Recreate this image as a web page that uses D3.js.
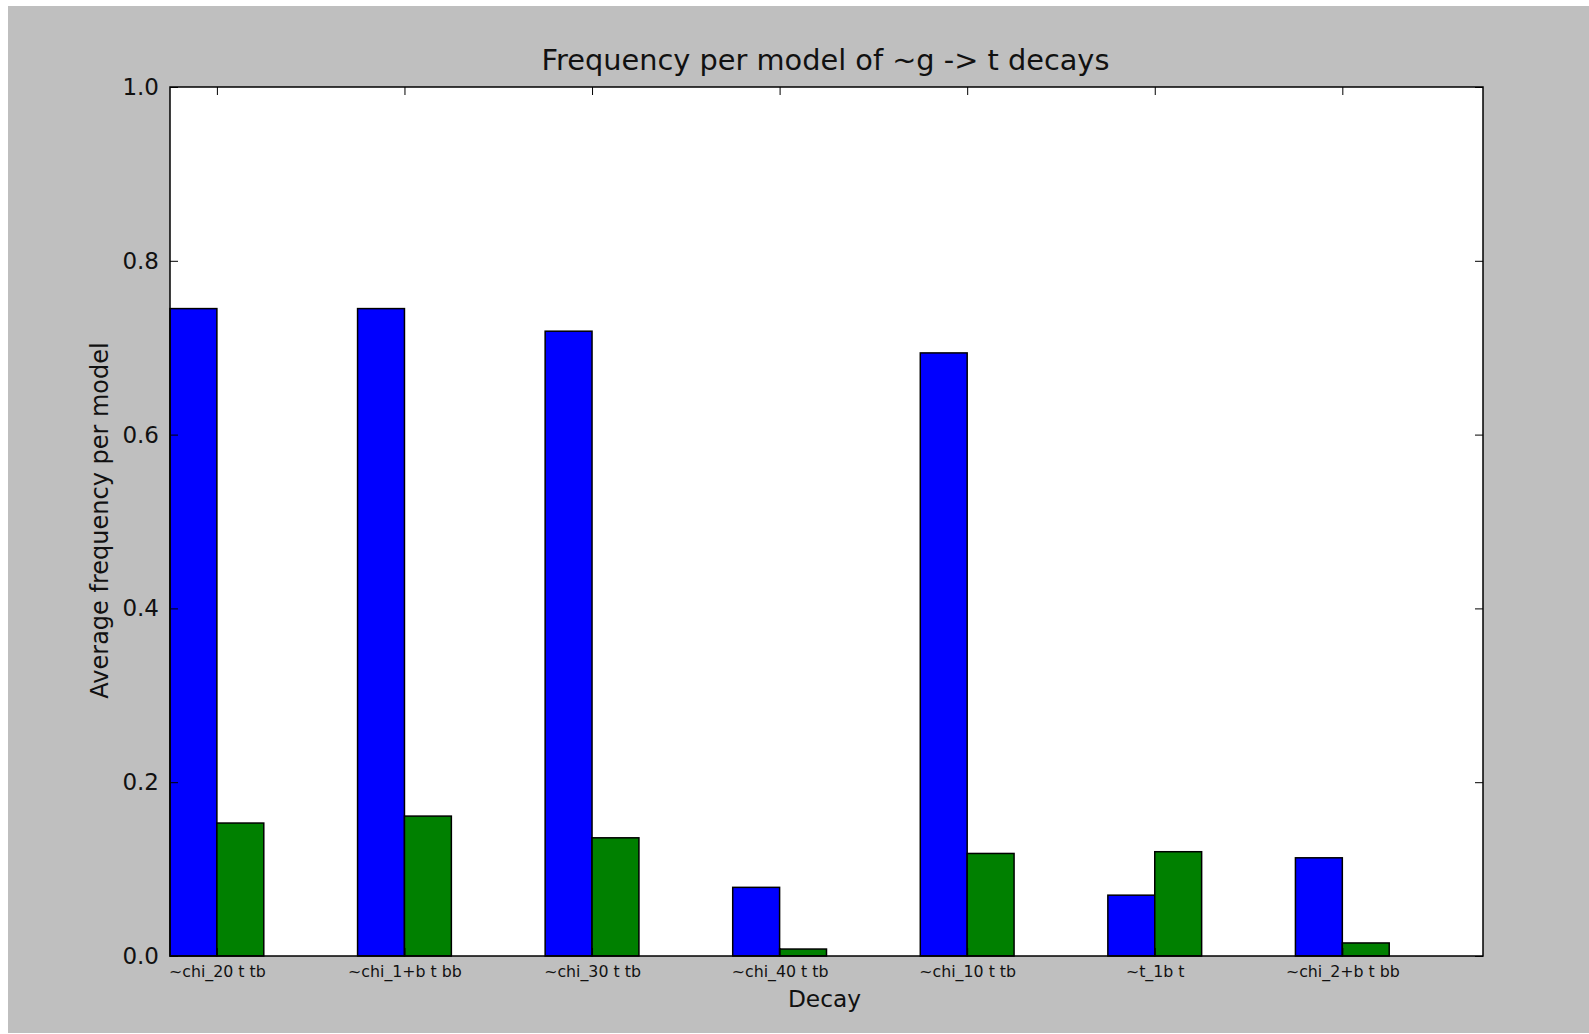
<!DOCTYPE html>
<html>
<head>
<meta charset="utf-8">
<script src="https://cdn.jsdelivr.net/npm/d3@7"></script>
<style>
  html, body { margin: 0; padding: 0; background: #ffffff; }
  svg { display: block; font-family: "DejaVu Sans", sans-serif; }
</style>
</head>
<body>
<svg id="chart" width="1589" height="1034"></svg>
<script>
// Decay channels and the average frequency per model for the two series
const categories = ["~chi_20 t tb", "~chi_1+b t bb", "~chi_30 t tb", "~chi_40 t tb", "~chi_10 t tb", "~t_1b t", "~chi_2+b t bb"];
const blueValues = [0.745, 0.745, 0.719, 0.079, 0.694, 0.070, 0.113];
const greenValues = [0.153, 0.161, 0.136, 0.008, 0.118, 0.120, 0.015];
const yTickValues = [0.0, 0.2, 0.4, 0.6, 0.8, 1.0];
const barWidth = 0.25;

const svg = d3.select("#chart");
const W = 1589, H = 1034;
const plot = { left: 170, right: 1483, top: 87, bottom: 956 };

// figure background
svg.append("rect").attr("x", 8).attr("y", 6).attr("width", W - 8).attr("height", H - 7)
  .attr("fill", "#bfbfbf");

const x = d3.scaleLinear().domain([0, categories.length]).range([plot.left, plot.right]);
const y = d3.scaleLinear().domain([0, 1]).range([plot.bottom, plot.top]);

// axes area
svg.append("rect").attr("x", plot.left).attr("y", plot.top)
  .attr("width", plot.right - plot.left).attr("height", plot.bottom - plot.top)
  .attr("fill", "#ffffff");

const bw = x(barWidth) - x(0);
const bars = svg.append("g");
const series = [
  { values: blueValues, offset: 0, color: "#0000ff" },
  { values: greenValues, offset: barWidth, color: "#008000" }
];
series.forEach(s => {
  bars.selectAll(null).data(s.values).enter().append("rect")
    .attr("x", (d, i) => x(i + s.offset))
    .attr("y", d => y(d))
    .attr("width", bw)
    .attr("height", d => y(0) - y(d))
    .attr("fill", s.color)
    .attr("stroke", "#000")
    .attr("stroke-width", 1.5);
});

const tickPos = categories.map((c, i) => i + barWidth);

// bottom axis with category labels
const xAxisBottom = d3.axisBottom(x).tickValues(tickPos)
  .tickFormat((d, i) => categories[i]).tickSizeInner(-8).tickSizeOuter(0).tickPadding(10);
const gxb = svg.append("g").attr("transform", `translate(0,${plot.bottom})`).call(xAxisBottom);
gxb.select(".domain").remove();
gxb.selectAll("text").attr("font-size", "15.8px").attr("fill", "#111").attr("font-family", "DejaVu Sans");

// top axis ticks
const xAxisTop = d3.axisTop(x).tickValues(tickPos).tickFormat("").tickSizeInner(-8).tickSizeOuter(0);
const gxt = svg.append("g").attr("transform", `translate(0,${plot.top})`).call(xAxisTop);
gxt.select(".domain").remove();

// left axis
const yAxisLeft = d3.axisLeft(y).tickValues(yTickValues).tickFormat(d3.format(".1f"))
  .tickSizeInner(-8).tickSizeOuter(0).tickPadding(11);
const gyl = svg.append("g").attr("transform", `translate(${plot.left},0)`).call(yAxisLeft);
gyl.select(".domain").remove();
gyl.selectAll("text").attr("font-size", "23px").attr("fill", "#111")
  .attr("font-family", "DejaVu Sans").attr("dy", "0.33em");

// right axis ticks
const yAxisRight = d3.axisRight(y).tickValues(yTickValues).tickFormat("").tickSizeInner(-8).tickSizeOuter(0);
const gyr = svg.append("g").attr("transform", `translate(${plot.right},0)`).call(yAxisRight);
gyr.select(".domain").remove();

svg.selectAll(".tick line").attr("stroke", "#000").attr("stroke-width", 1);

// frame
svg.append("rect").attr("x", plot.left).attr("y", plot.top)
  .attr("width", plot.right - plot.left).attr("height", plot.bottom - plot.top)
  .attr("fill", "none").attr("stroke", "#000").attr("stroke-width", 1.5);

// title and axis labels
const cx = (plot.left + plot.right) / 2;
svg.append("text").attr("x", cx - 1).attr("y", 70).attr("text-anchor", "middle")
  .attr("font-size", "28.8px").attr("fill", "#111").text("Frequency per model of ~g -> t decays");
svg.append("text").attr("x", cx - 2).attr("y", 1007).attr("text-anchor", "middle")
  .attr("font-size", "23.3px").attr("fill", "#111").text("Decay");
svg.append("text")
  .attr("transform", `translate(108,${(plot.top + plot.bottom) / 2 - 1}) rotate(-90)`)
  .attr("text-anchor", "middle").attr("font-size", "24px").attr("fill", "#111")
  .text("Average frequency per model");
</script>
</body>
</html>
